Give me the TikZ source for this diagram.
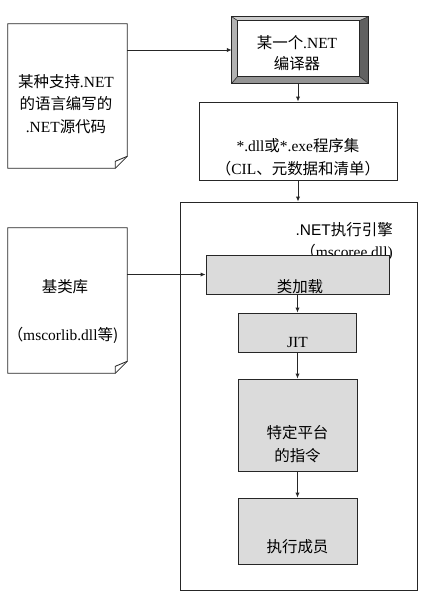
\documentclass[tikz,border=0pt]{standalone}
\usepackage{fontspec}
\setmainfont{Liberation Serif}
\newfontfamily\cjk{Noto Sans CJK SC}
\newfontfamily\latsans{Liberation Sans}
\usetikzlibrary{arrows.meta, positioning}

\newcommand{\zh}[1]{{\cjk #1}}
% page with a turned-down corner, drawn round an empty node
\newcommand{\foldpage}[1]{%
  \draw[line, fill=white] (#1.north west) -- (#1.north east)
    -- ([shift={(0,-12)}]#1.south east) -- ([shift={(-12,0)}]#1.south east)
    -- (#1.south west) -- cycle;
  \draw[line] ([shift={(-12,0)}]#1.south east) -- ([shift={(-12,-7)}]#1.south east)
    -- ([shift={(0,-12)}]#1.south east);
}

\begin{document}
\begin{tikzpicture}[
    x=0.025cm, y=-0.025cm,
    line/.style={draw=black!85, line width=0.6pt},
    flow/.style={line, -{Latex[length=3.5pt,width=3pt]}},
    page/.style={minimum width=2.975cm, inner sep=0pt},
    procbox/.style={line, fill=black!14, inner sep=0pt},
    txt/.style={font=\fontsize{11}{16}\selectfont, align=center, inner sep=0pt}
]
\useasboundingbox (0,0) rectangle (426,593);

% ============= SOURCE AND COMPILER =============
\node[page, minimum height=3.6cm] (src) at (67.5,96) {};
\foldpage{src}
\node[txt] (srctxt) at (66,104) {\zh{某种支持}.NET\\\zh{的语言编写的}\\.NET\zh{源代码}};

% bevelled compiler box
\node[minimum width=3.4cm, minimum height=1.65cm, inner sep=0pt] (comp) at (300,50) {};
\fill[black!20] (comp.north west) -- (comp.north east) -- ([shift={(-9,4)}]comp.north east) -- ([shift={(6,4)}]comp.north west) -- cycle;
\fill[black!30] (comp.north west) -- ([shift={(6,4)}]comp.north west) -- ([shift={(6,-7)}]comp.south west) -- (comp.south west) -- cycle;
\fill[black!62] (comp.north east) -- (comp.south east) -- ([shift={(-9,-7)}]comp.south east) -- ([shift={(-9,4)}]comp.north east) -- cycle;
\fill[black!42] (comp.south west) -- (comp.south east) -- ([shift={(-9,-7)}]comp.south east) -- ([shift={(6,-7)}]comp.south west) -- cycle;
\draw[line] (comp.north west) rectangle (comp.south east);
\draw[line] ([shift={(6,4)}]comp.north west) rectangle ([shift={(-9,-7)}]comp.south east);
\draw[line, line width=0.4pt] (comp.north west) -- ([shift={(6,4)}]comp.north west);
\draw[line, line width=0.4pt] (comp.north east) -- ([shift={(-9,4)}]comp.north east);
\draw[line, line width=0.4pt] (comp.south west) -- ([shift={(6,-7)}]comp.south west);
\draw[line, line width=0.4pt] (comp.south east) -- ([shift={(-9,-7)}]comp.south east);
\node[txt, font=\fontsize{11}{14.5}\selectfont] (comptxt) at (297,53) {\zh{某一个}.NET\\\zh{编译器}};

% assembly
\node[line, minimum width=4.95cm, minimum height=1.95cm, inner sep=0pt] (asm) at (298,141) {};
\node[txt] (asmtxt) at (298,157) {*.dll\zh{或}*.exe\zh{程序集}\\\zh{（}CIL\zh{、元数据和清单）}};

% ============= BASE LIBRARY =============
\node[page, minimum height=3.625cm] (lib) at (67.5,300.5) {};
\foldpage{lib}
\node[txt] (libname) at (65,287) {\zh{基类库}};
\node[txt] (libfile) at (63,335) {\zh{（}mscorlib.dll\zh{等}\zh{)}};

% ============= EXECUTION ENGINE =============
\node[line, minimum width=5.925cm, minimum height=9.7cm, inner sep=0pt] (eng) at (298.5,396) {};
\node[txt, align=right, anchor=north east] (engtxt) at (393,222) {{\latsans .NET}\zh{执行引擎}\\\zh{（}mscoree.dll)};

\node[procbox, minimum width=4.575cm, minimum height=0.975cm] (loader) at (297.5,274.5) {};
\node[txt] (loadertxt) at (300,287) {\zh{类加载}};

\node[procbox, minimum width=2.95cm, minimum height=0.975cm] (jit) at (297.5,332.5) {};
\node[txt] (jittxt) at (297.5,343) {JIT};

\node[procbox, minimum width=2.975cm, minimum height=2.3cm] (native) at (297.5,425) {};
\node[txt] (nativetxt) at (297.5,444) {\zh{特定平台}\\\zh{的指令}};

\node[procbox, minimum width=2.975cm, minimum height=1.65cm] (exec) at (297.5,531) {};
\node[txt] (exectxt) at (297.5,547) {\zh{执行成员}};

% connectors
\draw[flow] (comp.west -| src.east) -- (comp.west);
\draw[flow] (comp.south -| asm.north) -- (asm.north);
\draw[flow] (asm.south) -- (asm.south |- eng.north);
\draw[flow] (loader.west -| lib.east) -- (loader.west);
\draw[flow] (loader.south) -- (jit.north);
\draw[flow] (jit.south) -- (native.north);
\draw[flow] (native.south) -- (exec.north);

\end{tikzpicture}
\end{document}
